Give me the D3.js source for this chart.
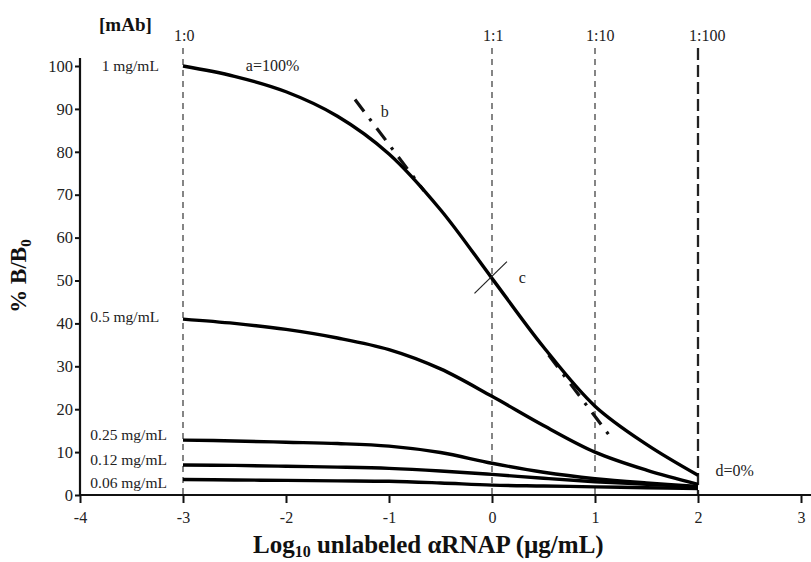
<!DOCTYPE html>
<html><head><meta charset="utf-8">
<script src="https://cdn.jsdelivr.net/npm/d3@7"></script>
<style>body{margin:0;background:#fff}</style>
</head><body><svg id="c" width="811" height="562"></svg>
<script>
// ---- data ----
const logConc = [-3, -2.5, -2, -1.5, -1, -0.5, 0, 0.5, 1, 1.5, 2];
const mAb1   = [100, 97.6, 94, 88.3, 79.5, 66.5, 50.5, 34.5, 20.7, 11.8, 4.6];
const mAb05  = [41, 40, 38.6, 36.6, 33.9, 29.4, 23, 16.2, 10, 5.8, 2.5];
const mAb025 = [12.8, 12.6, 12.3, 12, 11.4, 9.9, 7.4, 5.3, 3.8, 2.8, 2];
const mAb012 = [7, 6.9, 6.7, 6.5, 6.2, 5.6, 4.8, 3.9, 3.1, 2.5, 1.9];
const mAb006 = [3.6, 3.5, 3.4, 3.3, 3.2, 2.8, 2.3, 2.1, 1.9, 1.7, 1.5];
const seriesLabels = ["1 mg/mL", "0.5 mg/mL", "0.25 mg/mL", "0.12 mg/mL", "0.06 mg/mL"];
const labelX = [-3.79, -3.9, -3.9, -3.9, -3.9];
const labelY = [100, 41.5, 14, 8.2, 2.9];
const xTicks = [-4, -3, -2, -1, 0, 1, 2, 3];
const yTicks = [0, 10, 20, 30, 40, 50, 60, 70, 80, 90, 100];
const ratioX = [-3, 0, 1, 2];
const ratioLabels = ["1:0", "1:1", "1:10", "1:100"];
// slope line b: two visible pieces of the tangent through c
const slopeSegX = [[-1.33, -0.66], [0.55, 1.18]];
const slopeSegY = [[92.2, 70.9], [32.6, 12.6]];
const crossX = [-0.17, 0.145];
const crossY = [47, 54.4];
const notes = [
  {t: "a=100%", x: -2.39, y: 100},
  {t: "b", x: -1.08, y: 89.3},
  {t: "c", x: 0.26, y: 50.6},
  {t: "d=0%", x: 2.17, y: 5.6}
];

const series = [mAb1, mAb05, mAb025, mAb012, mAb006];
const svg = d3.select("#c");
const serif = "'Liberation Serif','Times New Roman',serif";
const x = d3.scaleLinear([-4, 3], [80, 801]);
const y = d3.scaleLinear([0, 100], [495, 66]);

// vertical dashed reference lines
ratioX.forEach((v, i) => {
  const last = i === ratioX.length - 1;
  svg.append("line")
    .attr("x1", x(v)).attr("x2", x(v))
    .attr("y1", 48).attr("y2", y(0))
    .attr("stroke", last ? "#222" : "#444")
    .attr("stroke-width", last ? 2.3 : 1.3)
    .attr("stroke-dasharray", last ? "12,5" : "6,5");
  svg.append("text")
    .attr("x", x(v) - 9).attr("y", 41)
    .attr("font-family", serif).attr("font-size", 16).attr("fill", "#222")
    .text(ratioLabels[i]);
});

// slope line b (dash-dot)
slopeSegX.forEach((sx, i) => {
  svg.append("line")
    .attr("x1", x(sx[0])).attr("y1", y(slopeSegY[i][0]))
    .attr("x2", x(sx[1])).attr("y2", y(slopeSegY[i][1]))
    .attr("stroke", "#111").attr("stroke-width", 3.2)
    .attr("stroke-dasharray", "15,9,3,9");
});

// curves
const line = d3.line().x((d, i) => x(logConc[i])).y(d => y(d)).curve(d3.curveCatmullRom.alpha(0.5));
series.forEach(s => {
  svg.append("path").attr("d", line(s))
    .attr("fill", "none").attr("stroke", "#000").attr("stroke-width", 3.4);
});

// crossing mark c
svg.append("line")
  .attr("x1", x(crossX[0])).attr("y1", y(crossY[0]))
  .attr("x2", x(crossX[1])).attr("y2", y(crossY[1]))
  .attr("stroke", "#222").attr("stroke-width", 1.2);

// axes
const xAxis = svg.append("g").attr("transform", `translate(0,${y(0)})`)
  .call(d3.axisBottom(x).tickValues(xTicks).tickSize(8).tickPadding(9).tickFormat(d => String(d)));
xAxis.select(".domain").remove();
xAxis.selectAll("line").attr("stroke", "#111").attr("stroke-width", 2);
xAxis.selectAll("text").attr("font-family", serif).attr("font-size", 16).attr("fill", "#222");
svg.append("line").attr("x1", 80).attr("x2", 811).attr("y1", y(0)).attr("y2", y(0))
  .attr("stroke", "#111").attr("stroke-width", 2.2);

const yAxis = svg.append("g").attr("transform", `translate(${x(-4)},0)`)
  .call(d3.axisLeft(y).tickValues(yTicks).tickSize(5).tickPadding(2));
yAxis.select(".domain").remove();
yAxis.selectAll("line").attr("stroke", "#111").attr("stroke-width", 2);
yAxis.selectAll("text").attr("font-family", serif).attr("font-size", 16.5).attr("fill", "#222");
svg.append("line").attr("x1", x(-4)).attr("x2", x(-4)).attr("y1", 58).attr("y2", y(0) + 1)
  .attr("stroke", "#111").attr("stroke-width", 2.2);

// series labels
seriesLabels.forEach((t, i) => {
  svg.append("text").attr("x", x(labelX[i])).attr("y", y(labelY[i]) + 5)
    .attr("font-family", serif).attr("font-size", 15.5).attr("fill", "#222").text(t);
});

// annotations
notes.forEach(n => {
  svg.append("text").attr("x", x(n.x)).attr("y", y(n.y) + 5)
    .attr("font-family", serif).attr("font-size", 16).attr("fill", "#222").text(n.t);
});

// [mAb]
svg.append("text").attr("x", 99).attr("y", 31)
  .attr("font-family", serif).attr("font-size", 19).attr("font-weight", "bold")
  .attr("fill", "#111").text("[mAb]");

// axis titles
const yt = svg.append("text")
  .attr("transform", "translate(26,276) rotate(-90)")
  .attr("text-anchor", "middle")
  .attr("font-family", serif).attr("font-size", 23).attr("font-weight", "bold").attr("fill", "#111");
yt.append("tspan").text("% B/B");
yt.append("tspan").attr("font-size", 15).attr("dy", 5).text("0");

const xt = svg.append("text").attr("x", 253).attr("y", 553)
  .attr("font-family", serif).attr("font-size", 25).attr("font-weight", "bold").attr("fill", "#111");
xt.append("tspan").text("Log");
xt.append("tspan").attr("font-size", 16).attr("dy", 4).text("10");
xt.append("tspan").attr("dy", -4).text(" unlabeled \u03b1RNAP (\u00b5g/mL)");
</script>
</body></html>
